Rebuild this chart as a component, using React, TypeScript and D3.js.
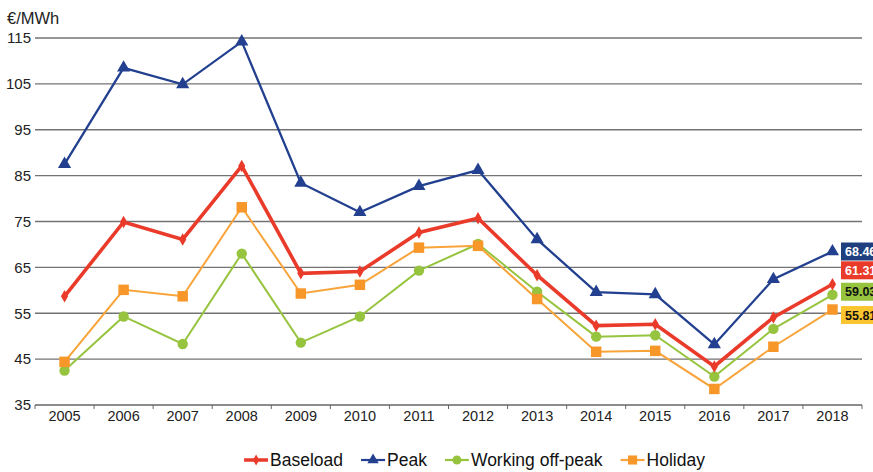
import * as d3 from "d3";
import { useMemo } from "react";

const years = ["2005", "2006", "2007", "2008", "2009", "2010", "2011", "2012", "2013", "2014", "2015", "2016", "2017", "2018"];
const baseload = [58.7, 74.9, 71.1, 87.1, 63.7, 64.1, 72.6, 75.7, 63.3, 52.3, 52.6, 43.4, 54.1, 61.31];
const peak = [87.5, 108.5, 104.9, 114.2, 83.4, 77.0, 82.7, 86.2, 71.1, 59.6, 59.1, 48.2, 62.4, 68.46];
const workingOffPeak = [42.5, 54.3, 48.3, 68.0, 48.6, 54.3, 64.3, 70.1, 59.7, 49.9, 50.2, 41.2, 51.6, 59.03];
const holiday = [44.4, 60.1, 58.7, 78.1, 59.3, 61.2, 69.3, 69.7, 58.1, 46.6, 46.8, 38.5, 47.7, 55.81];
const yTicks = [35, 45, 55, 65, 75, 85, 95, 105, 115];

type Series = {
  name: string;
  values: number[];
  line: string;
  marker: string;
  width: number;
  symbol: d3.SymbolType;
  size: number;
  labelText: string;
  labelShift: number;
};

const FONT = "'Liberation Sans', Arial, Helvetica, sans-serif";

const series: Series[] = [
  { name: "Baseload", values: baseload, line: "#ea3a2a", marker: "#ea3a2a", width: 3.6, symbol: d3.symbolDiamond, size: 45, labelText: "#ffffff", labelShift: -14 },
  { name: "Peak", values: peak, line: "#22408f", marker: "#22408f", width: 2.3, symbol: d3.symbolTriangle, size: 75, labelText: "#ffffff", labelShift: 0 },
  { name: "Working off-peak", values: workingOffPeak, line: "#96c43e", marker: "#96c43e", width: 2, symbol: d3.symbolCircle, size: 85, labelText: "#111111", labelShift: -3 },
  { name: "Holiday", values: holiday, line: "#f8a43a", marker: "#f7972a", width: 2, symbol: d3.symbolSquare, size: 110, labelText: "#111111", labelShift: 5.5 },
];
const labelFill: Record<string, string> = {
  Baseload: "#ea3a2a",
  Peak: "#1f3f7e",
  "Working off-peak": "#96c43e",
  Holiday: "#fbc530",
};
const drawOrder = ["Working off-peak", "Holiday", "Baseload", "Peak"];

export default function App() {
  const width = 873;
  const height = 472;
  const left = 35;
  const right = 862;
  const top = 38;
  const bottom = 405;

  const x = d3.scaleBand<string>().domain(years).range([left, right]).padding(0);
  const y = d3.scaleLinear().domain([35, 115]).range([bottom, top]);
  const cx = (yr: string) => (x(yr) ?? 0) + x.bandwidth() / 2;

  const lineGen = (vals: number[]) =>
    d3.line<number>().x((_, i) => cx(years[i])).y((v) => y(v))(vals) ?? "";

  const legendItems = useMemo(() => {
    const canvas = document.createElement("canvas");
    const ctx = canvas.getContext("2d");
    if (ctx) ctx.font = `17.5px ${FONT}`;
    const widths = series.map((s) => (ctx ? ctx.measureText(s.name).width : s.name.length * 9));
    const sw = 24;
    const gapText = 2;
    const gapItem = 18;
    const total = widths.reduce((a, w) => a + sw + gapText + w, 0) + gapItem * (series.length - 1);
    let cur = (241 + 708) / 2 - total / 2;
    return series.map((s, i) => {
      const item = { s, x: cur };
      cur += sw + gapText + widths[i] + gapItem;
      return item;
    });
  }, []);

  const ordered = drawOrder.map((n) => series.find((s) => s.name === n)!);

  return (
    <svg width={width} height={height} style={{ position: "absolute", left: 0, top: 0, fontFamily: FONT }}>
      <rect width={width} height={height} fill="#ffffff" />
      <text x={7} y={24} fontSize={16.5} fill="#222">€/MWh</text>

      {yTicks.map((t) => (
        <g key={t}>
          <line x1={left} x2={right} y1={y(t)} y2={y(t)} stroke={t === 35 ? "#666" : "#737373"} strokeWidth={1.4} />
          <text x={31} y={y(t)} dy="0.35em" textAnchor="end" fontSize={15} fill="#222">{t}</text>
        </g>
      ))}

      {years.map((yr) => (
        <line key={`t${yr}`} x1={x(yr)} x2={x(yr)} y1={bottom} y2={bottom + 4} stroke="#666" strokeWidth={1} />
      ))}
      <line x1={right} x2={right} y1={bottom} y2={bottom + 4} stroke="#666" strokeWidth={1} />
      {years.map((yr) => (
        <text key={`l${yr}`} x={cx(yr)} y={421} textAnchor="middle" fontSize={14.5} fill="#222">{yr}</text>
      ))}

      {ordered.map((s) => (
        <g key={s.name}>
          <path d={lineGen(s.values)} fill="none" stroke={s.line} strokeWidth={s.width} strokeLinejoin="miter" />
          {s.values.map((v, i) => (
            <path
              key={i}
              d={d3.symbol().type(s.symbol).size(s.size)() ?? ""}
              transform={`translate(${cx(years[i])},${y(v)})`}
              fill={s.marker}
            />
          ))}
        </g>
      ))}

      {series.map((s) => {
        const v = s.values[s.values.length - 1];
        const cy = y(v) + s.labelShift;
        return (
          <g key={`lab${s.name}`}>
            <rect x={841} y={cy - 9} width={36} height={18} fill={labelFill[s.name]} />
            <text x={845} y={cy} dy="0.36em" fontSize={12.5} fontWeight="bold" fill={s.labelText}>
              {v.toFixed(2)}
            </text>
          </g>
        );
      })}

      {legendItems.map(({ s, x: lx }) => (
        <g key={`leg${s.name}`} transform={`translate(${lx},460)`}>
          <line x1={0} x2={24} y1={0} y2={0} stroke={s.line} strokeWidth={s.name === "Baseload" ? 3.5 : 2.2} />
          <path d={d3.symbol().type(s.symbol).size(s.size * 0.75)() ?? ""} transform="translate(12,0)" fill={s.marker} />
          <text x={26} y={0} dy="0.36em" fontSize={17.5} fill="#111">{s.name}</text>
        </g>
      ))}
    </svg>
  );
}
